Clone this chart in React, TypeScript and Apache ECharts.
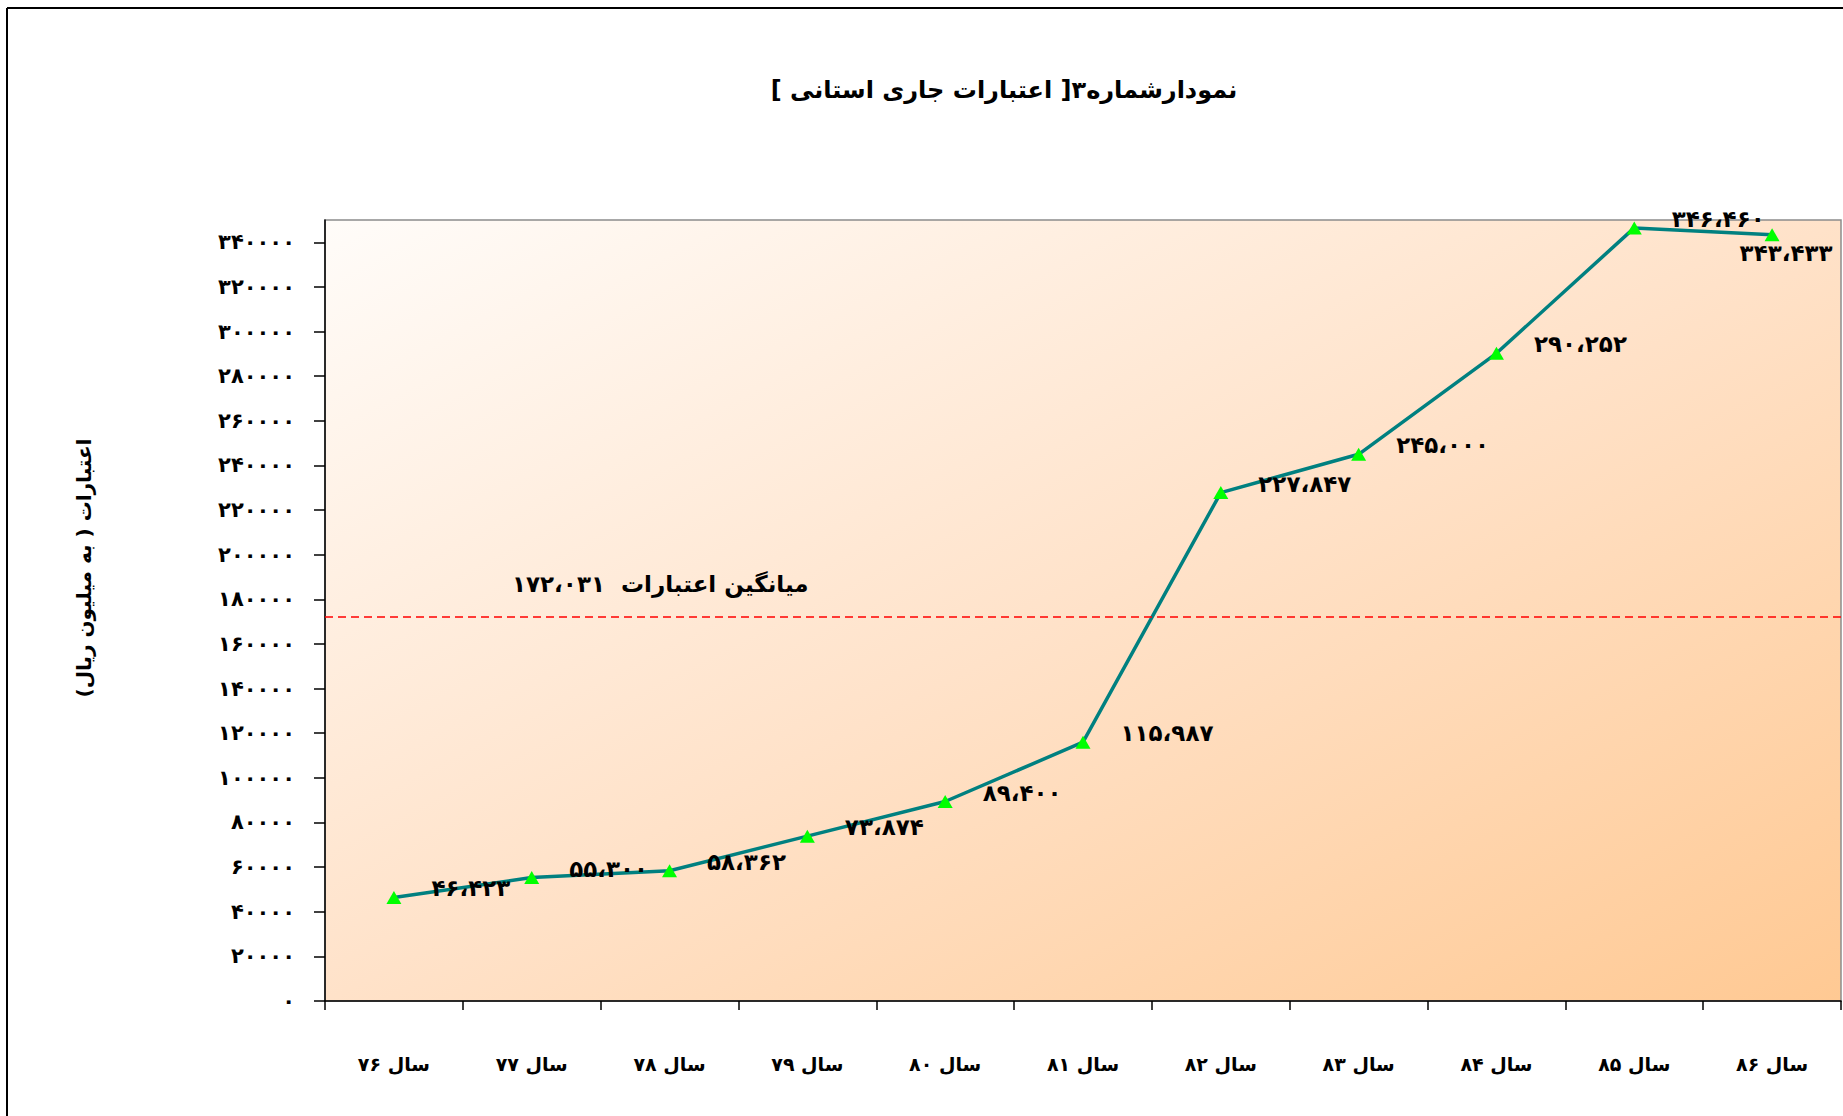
import React, { useEffect, useRef } from 'react';
import * as echarts from 'echarts';

const categories = [
  'سال ۷۶', 'سال ۷۷', 'سال ۷۸', 'سال ۷۹', 'سال ۸۰', 'سال ۸۱',
  'سال ۸۲', 'سال ۸۳', 'سال ۸۴', 'سال ۸۵', 'سال ۸۶',
];
const values = [46423, 55300, 58362, 73874, 89400, 115987, 227847, 245000, 290252, 346460, 343433];
const averageValue = 172031;
const yTickValues = [
  0, 20000, 40000, 60000, 80000, 100000, 120000, 140000, 160000,
  180000, 200000, 220000, 240000, 260000, 280000, 300000, 320000, 340000,
];
const yMin = 0;
const yMax = 350000;

const titleText = '\u200Fنمودارشماره۳[ اعتبارات جاری استانی ]\u200F';
const yTitleText = '\u200Fاعتبارات ( به میلیون ریال)\u200F';
const averageLabel = 'میانگین اعتبارات  ';

const FA = '۰۱۲۳۴۵۶۷۸۹';
const toFa = (s: string) => s.replace(/[0-9]/g, (d) => FA[+d]);
const fmtThousands = (n: number) => toFa(String(n).replace(/\B(?=(\d{3})+(?!\d))/g, '،'));

export default function App() {
  const ref = useRef<HTMLDivElement>(null);
  useEffect(() => {
    const chart = echarts.init(ref.current!, null, { renderer: 'svg' });
    const font = '"DejaVu Sans", "Noto Sans", sans-serif';
    const last = values.length - 1;
    const option: any = {
      animation: false,
      backgroundColor: '#ffffff',
      grid: {
        left: 325,
        right: 2,
        top: 220,
        bottom: 115,
        show: true,
        borderColor: '#8c8c8c',
        borderWidth: 1.5,
        backgroundColor: new echarts.graphic.LinearGradient(0, 0, 1, 1, [
          { offset: 0, color: '#fffcf9' },
          { offset: 0.5, color: '#ffe2c9' },
          { offset: 1, color: '#ffc993' },
        ]),
      },
      graphic: [
        { type: 'line', shape: { x1: 7, y1: 8, x2: 1843, y2: 8 }, style: { stroke: '#000', lineWidth: 2 } },
        { type: 'line', shape: { x1: 7, y1: 8, x2: 7, y2: 1116 }, style: { stroke: '#000', lineWidth: 2 } },
        {
          type: 'text',
          x: 1004,
          y: 90,
          style: {
            text: titleText,
            font: `bold 24px ${font}`,
            fill: '#000',
            align: 'center',
            verticalAlign: 'middle',
          },
        },
        {
          type: 'text',
          x: 84,
          y: 568,
          rotation: Math.PI / 2,
          style: {
            text: yTitleText,
            font: `bold 20px ${font}`,
            fill: '#000',
            align: 'center',
            verticalAlign: 'middle',
          },
        },
      ],
      xAxis: {
        type: 'category',
        data: categories,
        boundaryGap: true,
        axisLine: { show: true, lineStyle: { color: '#000', width: 1.5 } },
        axisTick: { show: true, length: 9, lineStyle: { color: '#000', width: 1.5 } },
        axisLabel: {
          margin: 53,
          color: '#000',
          fontSize: 19,
          fontWeight: 'bold',
          fontFamily: font,
        },
        splitLine: { show: false },
      },
      yAxis: {
        type: 'value',
        min: yMin,
        max: yMax,
        interval: 10000,
        axisLine: { show: true, lineStyle: { color: '#000', width: 1.5 } },
        axisTick: {
          show: true,
          length: 11,
          customValues: yTickValues,
          lineStyle: { color: '#000', width: 1.5 },
        },
        axisLabel: {
          customValues: yTickValues,
          margin: 30,
          color: '#000',
          fontSize: 21,
          fontWeight: 'bold',
          fontFamily: font,
          formatter: (v: number) => toFa(String(v)),
        },
        splitLine: { show: false },
      },
      series: [
        {
          type: 'line',
          data: values.map((v, i) =>
            i === last
              ? { value: v, label: { position: 'bottom', distance: 0, offset: [14, 0] } }
              : v
          ),
          symbol: 'triangle',
          symbolSize: [15, 13],
          itemStyle: { color: '#00ff00' },
          lineStyle: { color: '#008080', width: 3.5 },
          emphasis: { disabled: true },
          label: {
            show: true,
            position: 'right',
            distance: 30,
            offset: [0, -9],
            color: '#000',
            fontSize: 23,
            fontWeight: 'bold',
            fontFamily: font,
            formatter: (p: any) => fmtThousands(p.value),
          },
          markLine: {
            silent: true,
            symbol: 'none',
            lineStyle: { color: '#ff0000', type: [8, 5], width: 1.5 },
            label: {
              show: true,
              position: 'insideStartTop',
              distance: [187, 22],
              color: '#000',
              fontSize: 23,
              fontWeight: 'bold',
              fontFamily: font,
              formatter: () => averageLabel + fmtThousands(averageValue),
            },
            data: [{ yAxis: averageValue }],
          },
          z: 3,
        },
      ],
    };
    chart.setOption(option);
    return () => chart.dispose();
  }, []);
  return (
    <div
      ref={ref}
      style={{ position: 'fixed', left: 0, top: 0, width: 1843, height: 1116, background: '#fff' }}
    />
  );
}
